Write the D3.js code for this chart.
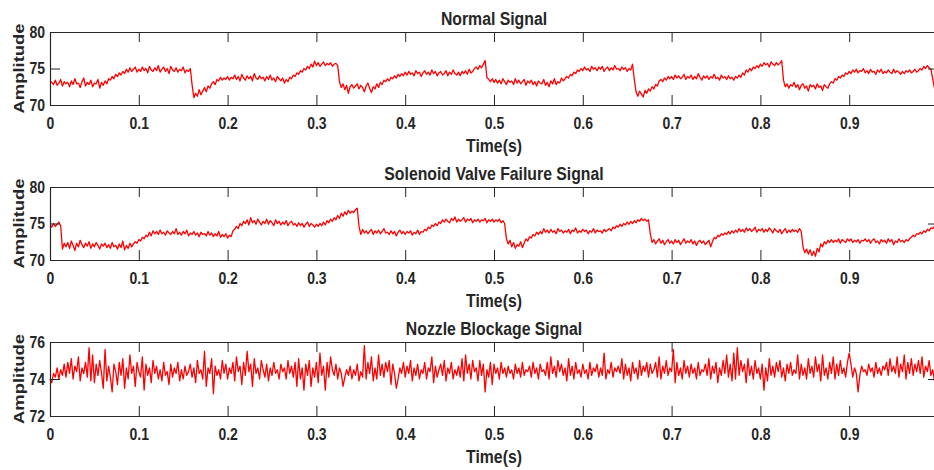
<!DOCTYPE html>
<html>
<head>
<meta charset="utf-8">
<script src="https://cdn.jsdelivr.net/npm/d3@7"></script>
<style>
  body { margin: 0; background: #fff; }
  text { font-family: "Liberation Sans", Arial, Helvetica, sans-serif; font-weight: bold; fill: #262626; }
</style>
</head>
<body>
<svg id="chart" width="934" height="470"></svg>
<script>
// Sampling interval of the recorded signals (seconds)
const sampleStep = 0.002;

const timeTicks = [0, 0.1, 0.2, 0.3, 0.4, 0.5, 0.6, 0.7, 0.8, 0.9];
const timeTickLabels = ["0", "0.1", "0.2", "0.3", "0.4", "0.5", "0.6", "0.7", "0.8", "0.9"];

const panelTitles = ["Normal Signal", "Solenoid Valve Failure Signal", "Nozzle Blockage Signal"];
const panelYDomains = [[70, 80], [70, 80], [72, 76]];
const panelYTicks = [[70, 75, 80], [70, 75, 80], [72, 74, 76]];

const normalSignal = [
  73.3,73.1,72.8,73.4,72.7,73.0,73.5,72.6,73.2,72.9,
  73.1,72.5,73.3,72.8,73.6,72.9,73.0,72.4,73.2,73.7,
  72.6,73.1,72.8,73.4,72.5,73.0,72.9,73.5,72.3,73.1,
  72.7,73.3,72.9,73.6,73.4,73.9,73.6,74.2,73.9,74.4,
  74.1,74.6,74.3,74.9,74.5,75.1,74.6,74.9,75.2,74.5,
  74.9,74.6,75.2,74.7,75.0,74.4,75.3,74.8,74.6,75.1,
  74.7,75.4,74.5,74.9,75.2,74.6,75.0,74.3,75.3,74.8,
  74.6,75.1,74.5,74.9,74.7,75.2,74.4,74.8,74.6,75.0,
  72.8,71.0,71.6,71.2,72.1,71.4,71.9,72.4,71.8,72.6,
  72.3,72.9,73.2,72.8,73.5,73.3,73.8,73.4,73.7,73.5,
  73.9,73.4,73.8,73.6,74.1,73.5,73.9,73.3,74.2,73.7,
  73.4,74.0,73.6,73.9,73.3,74.3,73.7,73.5,74.0,73.6,
  73.8,73.3,73.9,73.5,74.1,73.4,73.7,73.2,73.9,73.6,
  73.3,73.7,73.0,73.5,73.2,73.8,73.6,74.1,73.9,74.4,
  74.2,74.7,74.5,75.0,74.8,75.3,75.0,75.6,75.2,76.0,
  75.4,75.8,75.3,75.6,75.9,75.4,75.7,75.5,75.8,75.3,
  75.6,75.7,75.4,73.2,72.4,72.9,72.1,72.7,71.6,72.5,
  72.8,72.3,72.6,72.9,72.2,72.7,72.4,71.8,72.6,73.0,
  72.3,71.7,72.5,72.2,72.9,72.4,73.1,72.8,73.4,73.2,
  73.6,73.3,73.8,73.6,74.0,73.7,74.2,73.9,74.3,74.0,
  74.5,74.1,74.6,74.2,74.4,74.0,74.7,74.3,74.5,73.9,
  74.4,74.7,74.2,74.5,74.1,74.8,74.3,74.6,74.0,74.4,
  74.6,74.1,74.3,74.7,74.0,74.5,74.2,74.8,74.3,74.1,
  74.5,74.0,74.6,74.3,74.7,74.2,74.9,74.4,74.6,75.0,
  75.2,74.9,75.4,75.1,75.6,76.1,73.8,73.5,73.2,73.6,
  73.1,73.5,73.0,73.4,72.9,73.6,73.2,72.8,73.4,73.1,
  73.3,72.8,73.6,73.0,73.4,72.9,73.2,73.5,72.7,73.3,
  73.0,73.4,72.8,73.2,72.6,73.3,73.0,72.9,73.5,72.7,
  73.1,72.5,73.3,72.9,73.6,72.8,73.2,73.0,73.7,73.3,
  73.6,73.9,73.7,74.2,74.0,74.5,74.3,74.8,74.6,75.0,
  74.7,75.2,74.8,75.0,74.6,75.3,74.9,75.1,74.7,75.2,
  74.9,75.3,74.6,75.0,75.2,74.7,75.1,74.8,75.4,74.9,
  75.0,74.7,75.2,74.9,75.1,74.6,75.0,74.8,75.6,73.5,
  71.8,71.2,71.9,71.5,71.1,72.0,71.6,72.2,71.9,72.5,
  72.2,72.8,72.6,73.3,73.5,73.2,73.7,73.4,73.9,73.6,
  73.9,73.5,74.1,73.7,74.0,73.6,73.8,74.2,73.5,73.9,
  73.7,74.1,73.5,73.9,73.6,74.3,73.8,73.4,74.0,73.7,
  74.0,73.5,73.9,73.7,74.2,73.6,73.8,73.4,74.1,73.7,
  73.9,73.5,74.0,73.6,73.8,73.4,73.9,73.7,74.1,73.8,
  74.4,74.1,74.8,74.5,75.0,74.7,75.2,75.0,75.4,75.1,
  75.6,75.3,75.8,75.5,75.7,75.2,75.9,75.6,75.4,75.8,
  75.5,75.7,76.1,73.4,72.5,72.9,72.3,72.8,72.6,73.1,
  72.4,72.8,72.1,72.7,72.9,72.3,72.6,71.9,72.8,72.5,
  72.7,72.2,72.9,72.4,72.6,72.0,72.8,72.5,72.3,72.9,
  73.2,73.0,73.6,73.4,73.9,73.7,74.1,73.9,74.4,74.2,
  74.6,74.3,74.8,74.5,74.9,74.4,74.7,74.6,75.0,74.4,
  74.7,74.3,74.9,74.5,74.6,74.2,74.8,74.5,74.9,74.3,
  74.6,74.4,74.8,74.5,74.3,74.9,74.4,74.7,74.5,74.2,
  74.6,74.3,74.7,74.5,74.8,74.4,74.6,74.9,74.5,74.7,
  75.0,74.8,75.3,75.0,75.4,75.1,74.9,73.6,72.3,72.2
];

const solenoidSignal = [
  74.8,74.5,75.0,74.6,74.9,75.2,74.7,71.5,72.3,71.8,
  72.4,71.6,72.6,72.0,71.3,72.3,71.8,72.7,72.1,71.7,
  72.3,71.9,72.5,71.6,72.2,71.8,72.4,72.0,71.5,72.2,
  71.9,72.3,71.7,72.1,71.6,72.4,71.8,72.0,71.5,72.2,
  71.7,72.6,71.4,72.0,71.6,72.3,71.8,72.2,72.5,72.3,
  72.8,72.6,73.1,72.9,73.4,73.2,73.8,73.3,74.0,73.6,
  73.9,73.5,74.1,73.6,73.8,73.4,74.0,73.7,73.5,73.9,
  73.6,74.3,73.5,73.8,73.4,73.9,73.6,74.1,73.3,73.7,
  73.5,73.9,73.4,73.7,73.2,73.8,73.5,73.6,73.3,73.9,
  73.4,73.7,73.2,73.6,73.3,73.9,73.1,73.5,73.2,73.6,
  73.0,73.4,73.2,74.0,74.2,74.6,74.3,75.0,74.7,75.3,
  75.0,75.5,74.8,75.8,75.1,75.4,74.9,75.6,75.2,74.8,
  75.3,75.0,75.6,74.9,75.4,75.1,74.7,75.5,75.0,75.3,
  74.8,75.2,74.9,75.4,74.7,75.1,75.3,74.8,75.0,74.6,
  75.1,74.7,75.0,74.5,74.9,75.2,74.6,75.0,74.8,74.5,
  74.9,74.6,75.0,74.7,75.2,74.8,75.4,75.1,75.6,75.3,
  75.8,75.5,76.1,75.7,76.4,76.0,76.6,76.2,76.8,76.4,
  76.7,76.5,76.9,77.1,74.6,73.5,74.2,73.7,74.0,73.6,
  73.9,74.2,73.5,74.0,73.7,74.1,73.6,73.9,74.3,73.7,
  73.8,73.5,74.0,73.6,73.9,73.3,73.8,74.1,73.6,73.9,
  73.5,73.9,73.7,74.0,73.4,73.8,73.6,74.1,73.5,73.9,
  73.8,74.2,74.0,74.5,74.3,74.8,74.6,75.0,74.7,75.2,
  75.0,75.5,75.2,75.6,75.3,75.1,75.7,75.4,75.9,75.2,
  75.6,75.3,75.5,75.8,75.2,75.6,75.4,75.7,75.1,75.5,
  75.3,75.6,75.2,75.5,75.4,75.7,75.1,75.5,75.3,75.6,
  75.2,75.5,75.3,75.6,75.1,75.4,75.0,72.9,72.2,72.7,
  71.8,72.4,71.6,72.1,71.9,72.5,71.7,72.3,72.9,72.6,
  73.2,73.0,73.5,73.3,73.8,73.5,73.9,73.6,74.3,73.8,
  74.1,73.7,74.2,73.8,74.0,73.6,74.3,73.9,74.1,73.7,
  74.0,73.8,74.2,73.6,74.1,73.9,74.4,73.7,74.0,73.8,
  74.2,73.9,74.1,73.6,74.0,73.8,74.3,73.7,74.1,73.9,
  74.0,73.7,74.2,73.9,74.1,74.3,74.0,74.5,74.3,74.7,
  74.5,74.9,74.6,75.0,74.8,75.2,74.9,75.3,75.0,75.4,
  75.1,75.5,75.3,75.7,75.4,75.6,75.3,75.5,73.6,72.4,
  72.8,72.2,72.6,72.9,72.3,72.7,72.1,72.5,72.8,72.3,
  72.6,72.2,72.8,72.4,72.7,72.1,72.5,72.9,72.3,72.6,
  72.4,72.8,72.2,72.6,72.0,72.5,72.7,72.3,72.6,72.1,
  72.4,72.7,71.8,72.5,73.1,72.9,73.4,73.2,73.6,73.4,
  73.7,73.5,73.9,73.6,74.0,73.7,74.1,73.8,74.3,73.9,
  74.2,73.8,74.4,74.0,74.3,73.9,74.1,74.5,73.8,74.2,
  74.0,74.3,73.8,74.2,73.9,74.4,74.1,73.7,74.3,74.0,
  73.8,74.2,73.6,74.0,74.3,73.7,74.1,73.8,74.2,73.9,
  74.1,73.8,74.3,73.9,71.8,71.0,71.5,70.8,71.4,70.6,
  71.2,70.5,71.6,71.1,72.2,71.8,72.5,72.2,72.7,72.4,
  72.8,72.4,72.7,72.5,72.9,72.3,72.8,72.6,72.4,72.9,
  72.6,72.9,72.4,72.7,72.5,72.8,72.3,72.7,72.6,72.9,
  72.5,72.8,72.3,72.7,72.9,72.4,72.6,72.2,72.8,72.5,
  72.7,72.3,72.9,72.5,72.8,72.1,72.6,72.4,72.9,72.5,
  72.7,72.4,72.8,72.6,72.9,73.1,73.4,73.2,73.6,73.5,
  73.8,73.6,74.0,73.8,74.2,74.0,74.4,74.3,74.6,74.5
];

const nozzleSignal = [
  74.0,73.8,74.3,74.1,74.6,74.0,74.5,74.2,74.8,74.1,
  74.9,74.3,75.1,74.0,74.7,74.4,75.2,73.9,74.6,74.3,
  74.9,74.1,75.7,73.9,75.3,73.8,74.8,74.2,75.0,74.3,
  73.5,75.6,73.9,74.7,74.1,73.3,74.8,74.4,73.7,74.9,
  74.2,75.1,73.5,74.6,74.0,75.3,74.3,74.7,73.6,74.9,
  74.4,74.1,75.2,73.4,74.8,74.2,74.6,73.8,75.0,74.3,
  74.7,74.0,74.5,73.9,74.9,74.2,74.4,73.7,74.8,74.1,
  74.6,74.3,74.9,73.9,74.5,74.0,74.7,74.2,74.4,74.8,
  74.1,74.6,73.8,75.0,74.3,74.5,74.0,75.5,73.6,74.6,
  74.3,75.1,73.2,74.7,74.2,74.5,74.0,75.0,74.3,74.8,
  74.0,74.6,74.3,74.9,73.9,75.2,74.4,74.7,73.7,74.9,
  74.2,75.5,74.4,74.8,73.6,75.1,74.3,74.6,74.0,75.0,
  74.5,74.1,74.8,73.9,74.6,74.2,74.9,74.3,74.5,74.0,
  74.8,74.4,74.6,74.0,75.0,74.3,74.7,74.1,74.9,73.6,
  75.1,74.0,74.6,73.4,74.8,74.2,75.0,73.6,74.6,74.1,
  74.9,73.8,75.4,74.2,74.7,73.4,74.9,74.1,75.2,74.5,
  74.2,74.8,74.0,74.6,74.3,73.6,74.1,74.5,74.2,74.7,
  74.0,74.5,74.2,74.8,73.9,74.4,74.1,75.8,74.0,74.9,
  74.3,75.2,73.9,74.6,74.0,75.3,74.2,74.8,74.1,74.9,
  74.4,75.0,73.7,74.8,74.3,73.5,74.0,74.6,74.3,74.9,
  74.1,74.7,74.3,75.0,73.9,74.6,74.2,74.8,74.0,74.5,
  74.3,74.9,74.0,74.6,74.4,75.2,73.8,74.7,74.1,74.5,
  74.8,74.2,75.0,73.9,74.6,74.3,74.9,74.0,74.5,74.2,
  74.7,74.1,75.1,73.9,75.3,74.3,74.8,74.0,75.0,74.4,
  74.6,73.9,75.0,74.2,74.8,73.3,74.5,74.1,74.9,73.7,
  74.8,74.3,74.6,74.0,74.9,74.3,74.6,74.1,74.7,74.3,
  74.5,74.0,74.8,74.3,74.6,74.1,74.9,74.2,74.5,74.4,
  74.7,74.1,74.9,74.3,74.6,74.0,74.8,74.4,74.5,74.2,
  74.9,74.0,75.2,74.3,74.7,74.1,75.0,74.4,74.8,74.2,
  74.6,73.9,75.1,74.2,74.7,74.0,74.9,74.3,74.5,74.1,
  74.8,74.3,74.5,74.0,74.9,74.2,74.6,74.4,74.8,74.1,
  74.6,74.2,75.4,74.0,74.5,74.3,74.9,74.1,74.6,74.4,
  74.7,74.3,75.1,74.0,74.8,74.2,74.6,73.9,74.9,74.3,
  74.6,74.0,75.0,74.2,74.7,74.4,74.9,74.1,74.8,74.3,
  74.5,74.9,74.1,75.2,74.0,74.7,74.3,75.0,74.2,74.6,
  74.4,75.6,73.8,74.9,74.2,74.6,74.0,75.0,74.3,74.7,
  74.1,74.8,74.3,74.6,74.0,74.9,74.2,74.5,74.4,74.8,
  74.2,75.1,74.0,74.7,74.3,74.9,73.8,74.6,74.2,75.0,
  74.3,75.3,74.1,74.8,73.9,75.4,74.0,75.7,74.2,75.0,
  74.4,74.8,73.8,75.1,74.2,74.7,74.0,75.0,74.3,74.6,
  74.0,74.8,73.4,74.6,73.9,75.1,74.2,74.7,74.1,74.9,
  74.4,75.0,74.1,74.6,73.9,74.8,74.3,74.9,74.2,74.5,
  74.3,75.3,74.0,74.8,74.2,74.6,74.0,75.1,74.3,74.7,
  74.1,75.2,74.4,74.8,73.9,75.3,74.2,74.6,74.0,74.9,
  74.3,75.2,74.0,74.8,74.2,75.0,74.3,74.6,74.1,74.9,
  75.4,74.8,74.1,74.6,74.3,73.3,74.2,74.7,74.4,74.5,
  74.2,74.8,74.4,74.6,74.1,74.9,74.3,74.6,74.2,74.7,
  74.5,74.9,74.2,75.1,74.4,74.7,74.3,75.2,74.1,74.8,
  74.4,75.3,74.0,74.9,74.3,75.1,74.2,74.8,74.4,75.0,
  74.3,75.2,74.1,74.7,74.4,75.0,74.2,74.5,73.9,74.3
];

const panelSignals = [normalSignal, solenoidSignal, nozzleSignal];

// Panel frames (pixel positions of each axes box)
const plotLeft = 50, plotRight = 938;
const panelFrames = [
  { top: 32, bottom: 105 },
  { top: 187, bottom: 260 },
  { top: 342, bottom: 416 }
];

const ink = "#262626";
const textStretch = 1.18; // glyphs are drawn slightly taller than wide
const svg = d3.select("#chart");

const x = d3.scaleLinear().domain([0, 1]).range([plotLeft, plotRight]);

panelFrames.forEach((frame, i) => {
  const y = d3.scaleLinear().domain(panelYDomains[i]).range([frame.bottom, frame.top]);
  const g = svg.append("g");

  // signal trace
  const line = d3.line()
    .x((d, k) => x(k * sampleStep))
    .y(d => y(d));
  g.append("path")
    .datum(panelSignals[i])
    .attr("fill", "none")
    .attr("stroke", "#ff0000")
    .attr("stroke-width", 1.3)
    .attr("stroke-linejoin", "round")
    .attr("d", line);

  // axes with inward ticks on all four sides
  const fmt = (d) => timeTickLabels[timeTicks.indexOf(d)];
  const bottomAxis = g.append("g")
    .attr("transform", `translate(0,${frame.bottom})`)
    .call(d3.axisBottom(x).tickValues(timeTicks).tickFormat(fmt)
      .tickSizeInner(-10).tickSizeOuter(0).tickPadding(10));
  const topAxis = g.append("g")
    .attr("transform", `translate(0,${frame.top})`)
    .call(d3.axisTop(x).tickValues(timeTicks).tickFormat("")
      .tickSizeInner(-10).tickSizeOuter(0));
  const leftAxis = g.append("g")
    .attr("transform", `translate(${plotLeft},0)`)
    .call(d3.axisLeft(y).tickValues(panelYTicks[i]).tickFormat(d3.format("d"))
      .tickSizeInner(-10).tickSizeOuter(0).tickPadding(5));
  const rightAxis = g.append("g")
    .attr("transform", `translate(${plotRight},0)`)
    .call(d3.axisRight(y).tickValues(panelYTicks[i]).tickFormat("")
      .tickSizeInner(-10).tickSizeOuter(0));

  [bottomAxis, topAxis, leftAxis, rightAxis].forEach(a => {
    a.selectAll("path.domain").attr("stroke", ink).attr("stroke-width", 1.2);
    a.selectAll(".tick line").attr("stroke", ink).attr("stroke-width", 1);
    a.selectAll(".tick text")
      .attr("fill", ink)
      .attr("transform", `scale(1,${textStretch})`)
      .style("font-family", '"Liberation Sans", Arial, Helvetica, sans-serif')
      .style("font-weight", "bold")
      .style("font-size", "14px");
  });

  const cx = (plotLeft + plotRight) / 2;

  // panel title
  g.append("text")
    .attr("transform", `translate(${cx},${frame.top - 7}) scale(1,${textStretch})`)
    .attr("text-anchor", "middle")
    .style("font-size", "15.8px")
    .text(panelTitles[i]);

  // x-axis label
  g.append("text")
    .attr("transform", `translate(${cx},${frame.bottom + 47}) scale(1,${textStretch})`)
    .attr("text-anchor", "middle")
    .style("font-size", "15.8px")
    .text("Time(s)");

  // y-axis label
  const cy = (frame.top + frame.bottom) / 2;
  g.append("text")
    .attr("transform", `translate(24,${cy}) rotate(-90)`)
    .attr("text-anchor", "middle")
    .attr("textLength", 90)
    .attr("lengthAdjust", "spacingAndGlyphs")
    .style("font-size", "15px")
    .text("Amplitude");
});
</script>
</body>
</html>
